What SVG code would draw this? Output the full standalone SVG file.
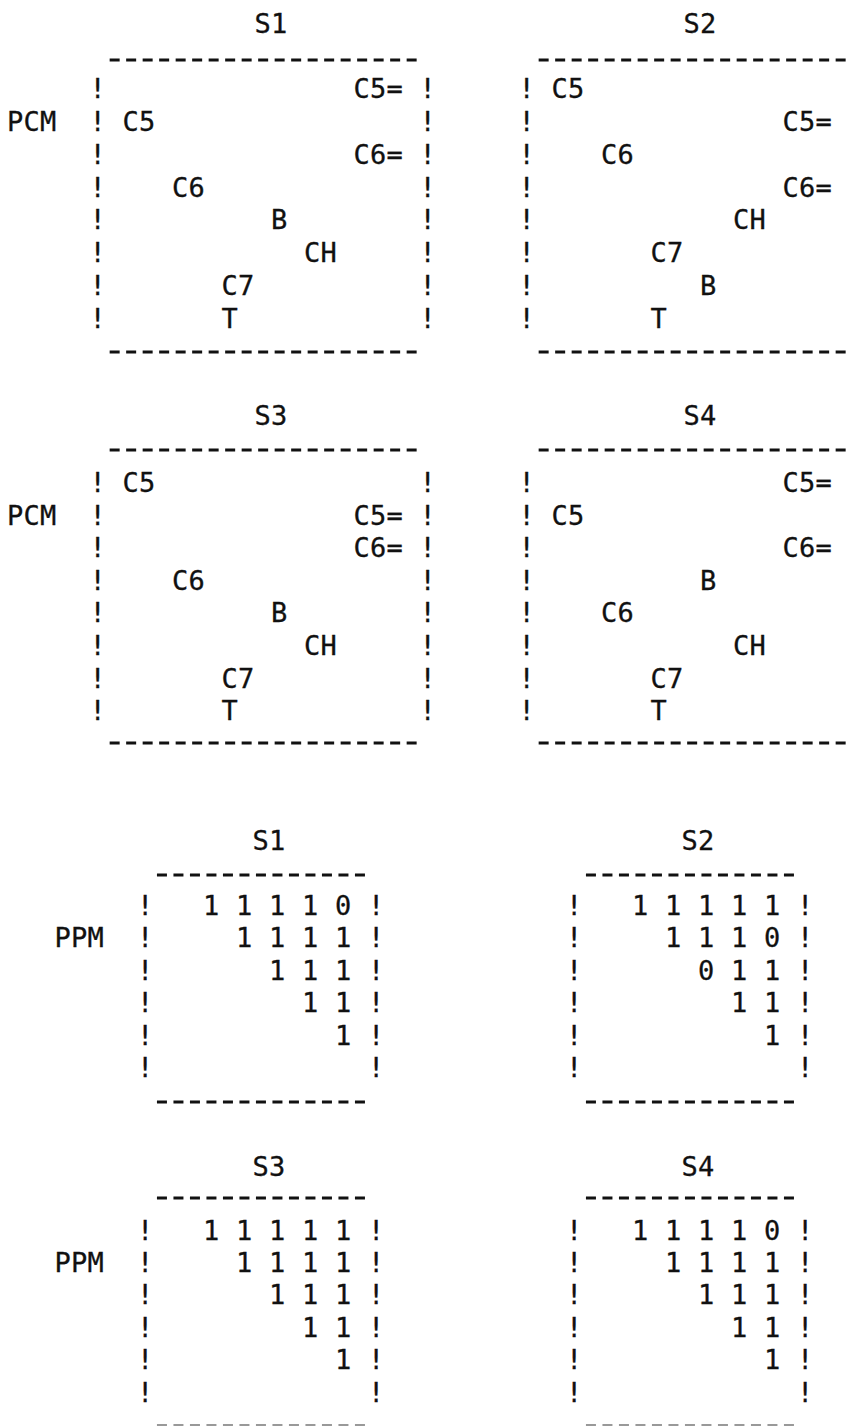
<svg xmlns="http://www.w3.org/2000/svg" width="851" height="1426" viewBox="0 0 851 1426">
  <style>
    text { font-family: "DejaVu Sans Mono", "Liberation Mono", monospace; font-size: 27px; fill: #111; stroke: #111; stroke-width: 0.3; letter-spacing: 0.25px; }
    .rule { stroke: #111; stroke-width: 3; stroke-dasharray: 10 6.5; fill: none; }
    .faint { stroke: #999; }
  </style>
  <rect width="851" height="1426" fill="#fff"/>

  <!-- PCM matrix, state S1 -->
  <g id="pcm-s1">
    <text x="254.6" y="33">S1</text>
    <line class="rule" x1="109.65" y1="60" x2="416.65" y2="60"/>
    <text x="89.6" y="98">!</text><text x="353.6" y="98">C5=</text><text x="419.6" y="98">!</text>
    <text x="7.1" y="131">PCM</text><text x="89.6" y="131">!</text><text x="122.6" y="131">C5</text><text x="419.6" y="131">!</text>
    <text x="89.6" y="164">!</text><text x="353.6" y="164">C6=</text><text x="419.6" y="164">!</text>
    <text x="89.6" y="197">!</text><text x="172.1" y="197">C6</text><text x="419.6" y="197">!</text>
    <text x="89.6" y="229">!</text><text x="271.1" y="229">B</text><text x="419.6" y="229">!</text>
    <text x="89.6" y="262">!</text><text x="304.1" y="262">CH</text><text x="419.6" y="262">!</text>
    <text x="89.6" y="295">!</text><text x="221.6" y="295">C7</text><text x="419.6" y="295">!</text>
    <text x="89.6" y="328">!</text><text x="221.6" y="328">T</text><text x="419.6" y="328">!</text>
    <line class="rule" x1="109.65" y1="352" x2="416.65" y2="352"/>
  </g>

  <!-- PCM matrix, state S2 (right edge runs off the sheet) -->
  <g id="pcm-s2">
    <text x="683.6" y="33">S2</text>
    <line class="rule" x1="538.65" y1="60" x2="845.65" y2="60"/>
    <text x="518.6" y="98">!</text><text x="551.6" y="98">C5</text>
    <text x="518.6" y="131">!</text><text x="782.6" y="131">C5=</text>
    <text x="518.6" y="164">!</text><text x="601.1" y="164">C6</text>
    <text x="518.6" y="197">!</text><text x="782.6" y="197">C6=</text>
    <text x="518.6" y="229">!</text><text x="733.1" y="229">CH</text>
    <text x="518.6" y="262">!</text><text x="650.6" y="262">C7</text>
    <text x="518.6" y="295">!</text><text x="700.1" y="295">B</text>
    <text x="518.6" y="328">!</text><text x="650.6" y="328">T</text>
    <line class="rule" x1="538.65" y1="352" x2="845.65" y2="352"/>
  </g>

  <!-- PCM matrix, state S3 -->
  <g id="pcm-s3">
    <text x="254.6" y="425">S3</text>
    <line class="rule" x1="109.65" y1="450" x2="416.65" y2="450"/>
    <text x="89.6" y="492">!</text><text x="122.6" y="492">C5</text><text x="419.6" y="492">!</text>
    <text x="7.1" y="525">PCM</text><text x="89.6" y="525">!</text><text x="353.6" y="525">C5=</text><text x="419.6" y="525">!</text>
    <text x="89.6" y="557">!</text><text x="353.6" y="557">C6=</text><text x="419.6" y="557">!</text>
    <text x="89.6" y="590">!</text><text x="172.1" y="590">C6</text><text x="419.6" y="590">!</text>
    <text x="89.6" y="622">!</text><text x="271.1" y="622">B</text><text x="419.6" y="622">!</text>
    <text x="89.6" y="655">!</text><text x="304.1" y="655">CH</text><text x="419.6" y="655">!</text>
    <text x="89.6" y="688">!</text><text x="221.6" y="688">C7</text><text x="419.6" y="688">!</text>
    <text x="89.6" y="720">!</text><text x="221.6" y="720">T</text><text x="419.6" y="720">!</text>
    <line class="rule" x1="109.65" y1="743" x2="416.65" y2="743"/>
  </g>

  <!-- PCM matrix, state S4 -->
  <g id="pcm-s4">
    <text x="683.6" y="425">S4</text>
    <line class="rule" x1="538.65" y1="450" x2="845.65" y2="450"/>
    <text x="518.6" y="492">!</text><text x="782.6" y="492">C5=</text>
    <text x="518.6" y="525">!</text><text x="551.6" y="525">C5</text>
    <text x="518.6" y="557">!</text><text x="782.6" y="557">C6=</text>
    <text x="518.6" y="590">!</text><text x="700.1" y="590">B</text>
    <text x="518.6" y="622">!</text><text x="601.1" y="622">C6</text>
    <text x="518.6" y="655">!</text><text x="733.1" y="655">CH</text>
    <text x="518.6" y="688">!</text><text x="650.6" y="688">C7</text>
    <text x="518.6" y="720">!</text><text x="650.6" y="720">T</text>
    <line class="rule" x1="538.65" y1="743" x2="845.65" y2="743"/>
  </g>

  <!-- PPM matrix, state S1 -->
  <g id="ppm-s1">
    <text x="252.4" y="850">S1</text>
    <line class="rule" x1="156.95" y1="875" x2="364.95" y2="875"/>
    <text x="136.9" y="915">!</text><text x="202.9" y="915">1 1 1 1 0</text><text x="367.9" y="915">!</text>
    <text x="54.4" y="947">PPM</text><text x="136.9" y="947">!</text><text x="235.9" y="947">1 1 1 1</text><text x="367.9" y="947">!</text>
    <text x="136.9" y="980">!</text><text x="268.9" y="980">1 1 1</text><text x="367.9" y="980">!</text>
    <text x="136.9" y="1012">!</text><text x="301.9" y="1012">1 1</text><text x="367.9" y="1012">!</text>
    <text x="136.9" y="1045">!</text><text x="334.9" y="1045">1</text><text x="367.9" y="1045">!</text>
    <text x="136.9" y="1077">!</text><text x="367.9" y="1077">!</text>
    <line class="rule" x1="156.95" y1="1102" x2="364.95" y2="1102"/>
  </g>

  <!-- PPM matrix, state S2 -->
  <g id="ppm-s2">
    <text x="681.4" y="850">S2</text>
    <line class="rule" x1="585.95" y1="875" x2="793.95" y2="875"/>
    <text x="565.9" y="915">!</text><text x="631.9" y="915">1 1 1 1 1</text><text x="796.9" y="915">!</text>
    <text x="565.9" y="947">!</text><text x="664.9" y="947">1 1 1 0</text><text x="796.9" y="947">!</text>
    <text x="565.9" y="980">!</text><text x="697.9" y="980">0 1 1</text><text x="796.9" y="980">!</text>
    <text x="565.9" y="1012">!</text><text x="730.9" y="1012">1 1</text><text x="796.9" y="1012">!</text>
    <text x="565.9" y="1045">!</text><text x="763.9" y="1045">1</text><text x="796.9" y="1045">!</text>
    <text x="565.9" y="1077">!</text><text x="796.9" y="1077">!</text>
    <line class="rule" x1="585.95" y1="1102" x2="793.95" y2="1102"/>
  </g>

  <!-- PPM matrix, state S3 (bottom rule cut by the sheet edge) -->
  <g id="ppm-s3">
    <text x="252.4" y="1176">S3</text>
    <line class="rule" x1="156.95" y1="1198" x2="364.95" y2="1198"/>
    <text x="136.9" y="1240">!</text><text x="202.9" y="1240">1 1 1 1 1</text><text x="367.9" y="1240">!</text>
    <text x="54.4" y="1272">PPM</text><text x="136.9" y="1272">!</text><text x="235.9" y="1272">1 1 1 1</text><text x="367.9" y="1272">!</text>
    <text x="136.9" y="1304">!</text><text x="268.9" y="1304">1 1 1</text><text x="367.9" y="1304">!</text>
    <text x="136.9" y="1337">!</text><text x="301.9" y="1337">1 1</text><text x="367.9" y="1337">!</text>
    <text x="136.9" y="1369">!</text><text x="334.9" y="1369">1</text><text x="367.9" y="1369">!</text>
    <text x="136.9" y="1402">!</text><text x="367.9" y="1402">!</text>
    <line class="rule faint" x1="156.95" y1="1425.5" x2="364.95" y2="1425.5"/>
  </g>

  <!-- PPM matrix, state S4 (bottom rule cut by the sheet edge) -->
  <g id="ppm-s4">
    <text x="681.4" y="1176">S4</text>
    <line class="rule" x1="585.95" y1="1198" x2="793.95" y2="1198"/>
    <text x="565.9" y="1240">!</text><text x="631.9" y="1240">1 1 1 1 0</text><text x="796.9" y="1240">!</text>
    <text x="565.9" y="1272">!</text><text x="664.9" y="1272">1 1 1 1</text><text x="796.9" y="1272">!</text>
    <text x="565.9" y="1304">!</text><text x="697.9" y="1304">1 1 1</text><text x="796.9" y="1304">!</text>
    <text x="565.9" y="1337">!</text><text x="730.9" y="1337">1 1</text><text x="796.9" y="1337">!</text>
    <text x="565.9" y="1369">!</text><text x="763.9" y="1369">1</text><text x="796.9" y="1369">!</text>
    <text x="565.9" y="1402">!</text><text x="796.9" y="1402">!</text>
    <line class="rule faint" x1="585.95" y1="1425.5" x2="793.95" y2="1425.5"/>
  </g>
</svg>
